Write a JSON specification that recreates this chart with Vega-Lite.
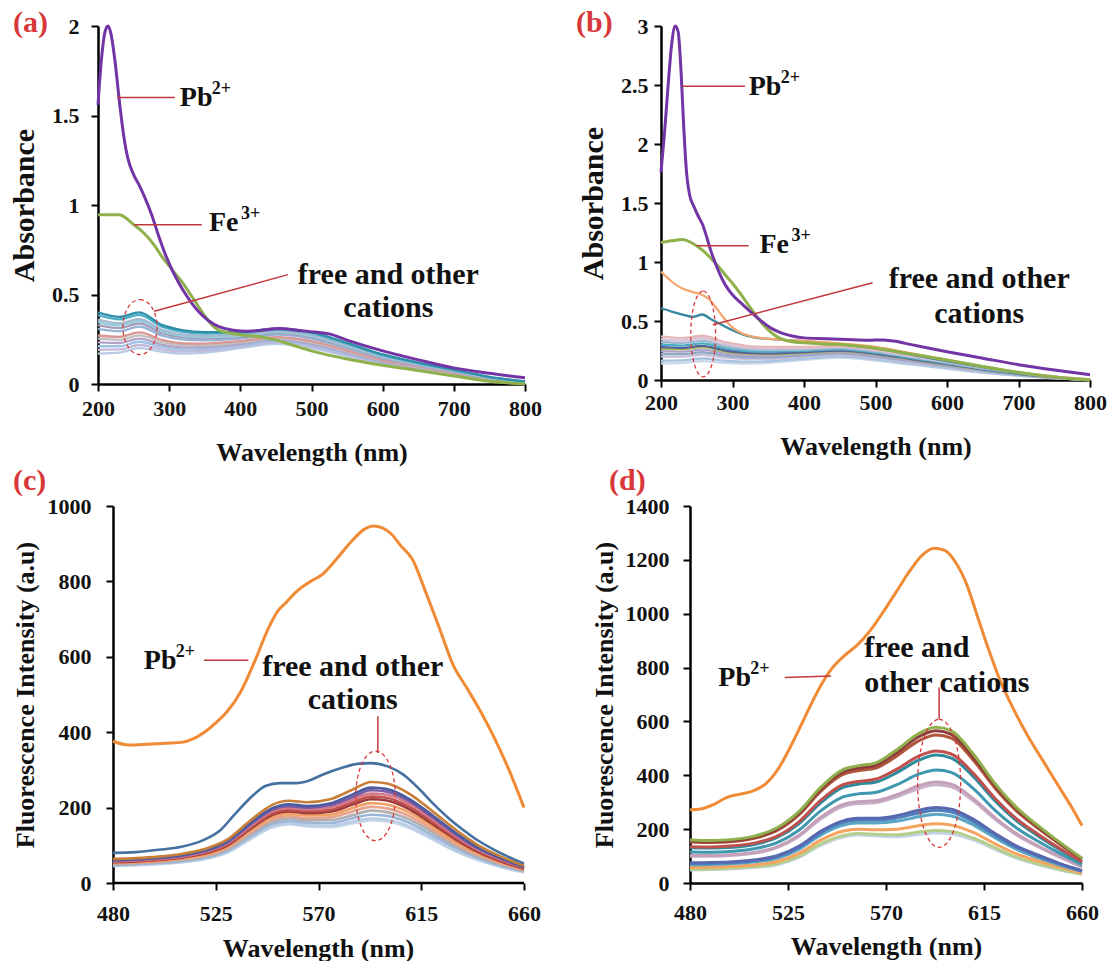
{
  "$schema": "https://vega.github.io/schema/vega-lite/v6.json",
  "background": "white",
  "padding": {"left": 9, "top": 8, "right": 0, "bottom": 0},
  "config": {
    "view": {"stroke": null},
    "font": "Liberation Serif, serif",
    "style": {
      "guide-label": {"font": "Liberation Serif, serif", "fontWeight": "bold"},
      "guide-title": {"font": "Liberation Serif, serif", "fontWeight": "bold"}
    },
    "axis": {
      "domainColor": "#000", "domainWidth": 2.5, "tickColor": "#000", "tickWidth": 2, "tickSize": 7,
      "labelFont": "Liberation Serif, serif", "labelFontSize": 22, "labelFontWeight": "bold", "labelColor": "#111",
      "titleFont": "Liberation Serif, serif", "titleFontSize": 26, "titleFontWeight": "bold", "titleColor": "#111",
      "grid": false, "labelFlush": false, "labelOverlap": false
    },
    "title": {"anchor": "start", "frame": "group", "orient": "top", "offset": 0, "align": "left", "baseline": "middle",
      "color": "#D8383A", "font": "Liberation Serif, serif", "fontSize": 30, "fontWeight": "bold"}
  },
  "datasets": {
    "a": [
      {"s":"a12","x":200,"y":0.17},{"s":"a12","x":230,"y":0.175},{"s":"a12","x":258,"y":0.2},{"s":"a12","x":290,"y":0.18},{"s":"a12","x":320,"y":0.17},{"s":"a12","x":350,"y":0.175},{"s":"a12","x":400,"y":0.2},{"s":"a12","x":450,"y":0.225},{"s":"a12","x":500,"y":0.2},{"s":"a12","x":550,"y":0.155},{"s":"a12","x":600,"y":0.11},{"s":"a12","x":650,"y":0.08},{"s":"a12","x":700,"y":0.05},{"s":"a12","x":750,"y":0.02},{"s":"a12","x":800,"y":0.0},
      {"s":"a11","x":200,"y":0.191},{"s":"a11","x":230,"y":0.193},{"s":"a11","x":258,"y":0.218},{"s":"a11","x":290,"y":0.194},{"s":"a11","x":320,"y":0.182},{"s":"a11","x":350,"y":0.185},{"s":"a11","x":400,"y":0.208},{"s":"a11","x":450,"y":0.233},{"s":"a11","x":500,"y":0.208},{"s":"a11","x":550,"y":0.162},{"s":"a11","x":600,"y":0.115},{"s":"a11","x":650,"y":0.084},{"s":"a11","x":700,"y":0.053},{"s":"a11","x":750,"y":0.022},{"s":"a11","x":800,"y":0.001},
      {"s":"a10","x":200,"y":0.211},{"s":"a10","x":230,"y":0.211},{"s":"a10","x":258,"y":0.236},{"s":"a10","x":290,"y":0.207},{"s":"a10","x":320,"y":0.193},{"s":"a10","x":350,"y":0.196},{"s":"a10","x":400,"y":0.216},{"s":"a10","x":450,"y":0.24},{"s":"a10","x":500,"y":0.216},{"s":"a10","x":550,"y":0.169},{"s":"a10","x":600,"y":0.12},{"s":"a10","x":650,"y":0.087},{"s":"a10","x":700,"y":0.055},{"s":"a10","x":750,"y":0.024},{"s":"a10","x":800,"y":0.003},
      {"s":"a9","x":200,"y":0.232},{"s":"a9","x":230,"y":0.229},{"s":"a9","x":258,"y":0.254},{"s":"a9","x":290,"y":0.22},{"s":"a9","x":320,"y":0.205},{"s":"a9","x":350,"y":0.206},{"s":"a9","x":400,"y":0.224},{"s":"a9","x":450,"y":0.248},{"s":"a9","x":500,"y":0.224},{"s":"a9","x":550,"y":0.175},{"s":"a9","x":600,"y":0.125},{"s":"a9","x":650,"y":0.091},{"s":"a9","x":700,"y":0.058},{"s":"a9","x":750,"y":0.025},{"s":"a9","x":800,"y":0.004},
      {"s":"a8","x":200,"y":0.253},{"s":"a8","x":230,"y":0.247},{"s":"a8","x":258,"y":0.272},{"s":"a8","x":290,"y":0.234},{"s":"a8","x":320,"y":0.217},{"s":"a8","x":350,"y":0.216},{"s":"a8","x":400,"y":0.232},{"s":"a8","x":450,"y":0.256},{"s":"a8","x":500,"y":0.232},{"s":"a8","x":550,"y":0.182},{"s":"a8","x":600,"y":0.13},{"s":"a8","x":650,"y":0.094},{"s":"a8","x":700,"y":0.061},{"s":"a8","x":750,"y":0.027},{"s":"a8","x":800,"y":0.005},
      {"s":"a7","x":200,"y":0.271},{"s":"a7","x":230,"y":0.263},{"s":"a7","x":258,"y":0.288},{"s":"a7","x":290,"y":0.246},{"s":"a7","x":320,"y":0.227},{"s":"a7","x":350,"y":0.226},{"s":"a7","x":400,"y":0.24},{"s":"a7","x":450,"y":0.262},{"s":"a7","x":500,"y":0.24},{"s":"a7","x":550,"y":0.188},{"s":"a7","x":600,"y":0.134},{"s":"a7","x":650,"y":0.098},{"s":"a7","x":700,"y":0.063},{"s":"a7","x":750,"y":0.029},{"s":"a7","x":800,"y":0.007},
      {"s":"a6","x":200,"y":0.308},{"s":"a6","x":230,"y":0.295},{"s":"a6","x":258,"y":0.32},{"s":"a6","x":290,"y":0.27},{"s":"a6","x":320,"y":0.248},{"s":"a6","x":350,"y":0.244},{"s":"a6","x":400,"y":0.254},{"s":"a6","x":450,"y":0.276},{"s":"a6","x":500,"y":0.254},{"s":"a6","x":550,"y":0.2},{"s":"a6","x":600,"y":0.143},{"s":"a6","x":650,"y":0.104},{"s":"a6","x":700,"y":0.068},{"s":"a6","x":750,"y":0.032},{"s":"a6","x":800,"y":0.009},
      {"s":"a5","x":200,"y":0.329},{"s":"a5","x":230,"y":0.313},{"s":"a5","x":258,"y":0.338},{"s":"a5","x":290,"y":0.284},{"s":"a5","x":320,"y":0.26},{"s":"a5","x":350,"y":0.254},{"s":"a5","x":400,"y":0.262},{"s":"a5","x":450,"y":0.284},{"s":"a5","x":500,"y":0.262},{"s":"a5","x":550,"y":0.207},{"s":"a5","x":600,"y":0.148},{"s":"a5","x":650,"y":0.108},{"s":"a5","x":700,"y":0.071},{"s":"a5","x":750,"y":0.034},{"s":"a5","x":800,"y":0.01},
      {"s":"a4","x":200,"y":0.345},{"s":"a4","x":230,"y":0.327},{"s":"a4","x":258,"y":0.352},{"s":"a4","x":290,"y":0.294},{"s":"a4","x":320,"y":0.269},{"s":"a4","x":350,"y":0.262},{"s":"a4","x":400,"y":0.268},{"s":"a4","x":450,"y":0.29},{"s":"a4","x":500,"y":0.268},{"s":"a4","x":550,"y":0.212},{"s":"a4","x":600,"y":0.152},{"s":"a4","x":650,"y":0.11},{"s":"a4","x":700,"y":0.073},{"s":"a4","x":750,"y":0.035},{"s":"a4","x":800,"y":0.011},
      {"s":"a3","x":200,"y":0.359},{"s":"a3","x":230,"y":0.339},{"s":"a3","x":258,"y":0.364},{"s":"a3","x":290,"y":0.303},{"s":"a3","x":320,"y":0.277},{"s":"a3","x":350,"y":0.269},{"s":"a3","x":400,"y":0.274},{"s":"a3","x":450,"y":0.295},{"s":"a3","x":500,"y":0.274},{"s":"a3","x":550,"y":0.217},{"s":"a3","x":600,"y":0.155},{"s":"a3","x":650,"y":0.113},{"s":"a3","x":700,"y":0.075},{"s":"a3","x":750,"y":0.036},{"s":"a3","x":800,"y":0.012},
      {"s":"a2","x":200,"y":0.384},{"s":"a2","x":230,"y":0.361},{"s":"a2","x":258,"y":0.386},{"s":"a2","x":290,"y":0.32},{"s":"a2","x":320,"y":0.291},{"s":"a2","x":350,"y":0.282},{"s":"a2","x":400,"y":0.284},{"s":"a2","x":450,"y":0.304},{"s":"a2","x":500,"y":0.284},{"s":"a2","x":550,"y":0.225},{"s":"a2","x":600,"y":0.161},{"s":"a2","x":650,"y":0.117},{"s":"a2","x":700,"y":0.078},{"s":"a2","x":750,"y":0.039},{"s":"a2","x":800,"y":0.014},
      {"s":"a1","x":200,"y":0.4},{"s":"a1","x":230,"y":0.375},{"s":"a1","x":258,"y":0.4},{"s":"a1","x":290,"y":0.33},{"s":"a1","x":320,"y":0.3},{"s":"a1","x":350,"y":0.29},{"s":"a1","x":400,"y":0.29},{"s":"a1","x":450,"y":0.31},{"s":"a1","x":500,"y":0.29},{"s":"a1","x":550,"y":0.23},{"s":"a1","x":600,"y":0.165},{"s":"a1","x":650,"y":0.12},{"s":"a1","x":700,"y":0.08},{"s":"a1","x":750,"y":0.04},{"s":"a1","x":800,"y":0.015},
      {"s":"Fe","x":200,"y":0.945},{"s":"Fe","x":215,"y":0.945},{"s":"Fe","x":230,"y":0.945},{"s":"Fe","x":240,"y":0.925},{"s":"Fe","x":250,"y":0.89},{"s":"Fe","x":260,"y":0.86},{"s":"Fe","x":270,"y":0.82},{"s":"Fe","x":280,"y":0.77},{"s":"Fe","x":290,"y":0.71},{"s":"Fe","x":300,"y":0.66},{"s":"Fe","x":310,"y":0.61},{"s":"Fe","x":320,"y":0.56},{"s":"Fe","x":330,"y":0.5},{"s":"Fe","x":340,"y":0.44},{"s":"Fe","x":350,"y":0.38},{"s":"Fe","x":360,"y":0.33},{"s":"Fe","x":370,"y":0.3},{"s":"Fe","x":385,"y":0.285},{"s":"Fe","x":400,"y":0.275},{"s":"Fe","x":425,"y":0.265},{"s":"Fe","x":450,"y":0.245},{"s":"Fe","x":475,"y":0.215},{"s":"Fe","x":500,"y":0.185},{"s":"Fe","x":550,"y":0.14},{"s":"Fe","x":600,"y":0.105},{"s":"Fe","x":650,"y":0.075},{"s":"Fe","x":700,"y":0.045},{"s":"Fe","x":750,"y":0.015},{"s":"Fe","x":800,"y":0.0},
      {"s":"Pb","x":200,"y":1.56},{"s":"Pb","x":205,"y":1.82},{"s":"Pb","x":210,"y":1.97},{"s":"Pb","x":214,"y":2.0},{"s":"Pb","x":218,"y":1.96},{"s":"Pb","x":224,"y":1.8},{"s":"Pb","x":230,"y":1.58},{"s":"Pb","x":236,"y":1.39},{"s":"Pb","x":242,"y":1.26},{"s":"Pb","x":250,"y":1.17},{"s":"Pb","x":258,"y":1.11},{"s":"Pb","x":266,"y":1.04},{"s":"Pb","x":275,"y":0.95},{"s":"Pb","x":285,"y":0.83},{"s":"Pb","x":295,"y":0.72},{"s":"Pb","x":305,"y":0.63},{"s":"Pb","x":315,"y":0.555},{"s":"Pb","x":325,"y":0.49},{"s":"Pb","x":340,"y":0.41},{"s":"Pb","x":355,"y":0.355},{"s":"Pb","x":370,"y":0.32},{"s":"Pb","x":390,"y":0.3},{"s":"Pb","x":410,"y":0.295},{"s":"Pb","x":430,"y":0.3},{"s":"Pb","x":455,"y":0.31},{"s":"Pb","x":480,"y":0.3},{"s":"Pb","x":505,"y":0.29},{"s":"Pb","x":525,"y":0.28},{"s":"Pb","x":550,"y":0.245},{"s":"Pb","x":600,"y":0.185},{"s":"Pb","x":650,"y":0.135},{"s":"Pb","x":700,"y":0.09},{"s":"Pb","x":750,"y":0.06},{"s":"Pb","x":800,"y":0.035}
    ],
    "a_notes": [
      {"kind":"rule","x":227,"y":1.6,"x2":308,"y2":1.6},
      {"kind":"rule","x":251,"y":0.89,"x2":346,"y2":0.89},
      {"kind":"rule","x":279,"y":0.406,"x2":467,"y2":0.611},
      {"kind":"ring","x":259,"y":0.318},
      {"kind":"label","x":315,"y":1.6,"t":"Pb","sup":"2+"},
      {"kind":"label","x":356,"y":0.9,"t":"Fe","sup":"3+"},
      {"kind":"note","x":608,"y":0.611,"t":"free and other\ncations"}
    ],
    "b": [
      {"s":"b11","x":200,"y":0.14},{"s":"b11","x":230,"y":0.145},{"s":"b11","x":258,"y":0.16},{"s":"b11","x":290,"y":0.145},{"s":"b11","x":320,"y":0.14},{"s":"b11","x":350,"y":0.145},{"s":"b11","x":400,"y":0.17},{"s":"b11","x":450,"y":0.19},{"s":"b11","x":500,"y":0.165},{"s":"b11","x":550,"y":0.13},{"s":"b11","x":600,"y":0.095},{"s":"b11","x":650,"y":0.06},{"s":"b11","x":700,"y":0.035},{"s":"b11","x":750,"y":0.015},{"s":"b11","x":800,"y":0.0},
      {"s":"b10","x":200,"y":0.163},{"s":"b10","x":230,"y":0.166},{"s":"b10","x":258,"y":0.182},{"s":"b10","x":290,"y":0.163},{"s":"b10","x":320,"y":0.155},{"s":"b10","x":350,"y":0.159},{"s":"b10","x":400,"y":0.181},{"s":"b10","x":450,"y":0.2},{"s":"b10","x":500,"y":0.175},{"s":"b10","x":550,"y":0.138},{"s":"b10","x":600,"y":0.102},{"s":"b10","x":650,"y":0.065},{"s":"b10","x":700,"y":0.038},{"s":"b10","x":750,"y":0.017},{"s":"b10","x":800,"y":0.0},
      {"s":"b9","x":200,"y":0.198},{"s":"b9","x":230,"y":0.198},{"s":"b9","x":258,"y":0.214},{"s":"b9","x":290,"y":0.189},{"s":"b9","x":320,"y":0.178},{"s":"b9","x":350,"y":0.179},{"s":"b9","x":400,"y":0.198},{"s":"b9","x":450,"y":0.215},{"s":"b9","x":500,"y":0.189},{"s":"b9","x":550,"y":0.15},{"s":"b9","x":600,"y":0.111},{"s":"b9","x":650,"y":0.073},{"s":"b9","x":700,"y":0.043},{"s":"b9","x":750,"y":0.019},{"s":"b9","x":800,"y":0.001},
      {"s":"b8","x":200,"y":0.221},{"s":"b8","x":230,"y":0.219},{"s":"b8","x":258,"y":0.235},{"s":"b8","x":290,"y":0.206},{"s":"b8","x":320,"y":0.193},{"s":"b8","x":350,"y":0.192},{"s":"b8","x":400,"y":0.209},{"s":"b8","x":450,"y":0.225},{"s":"b8","x":500,"y":0.198},{"s":"b8","x":550,"y":0.158},{"s":"b8","x":600,"y":0.118},{"s":"b8","x":650,"y":0.078},{"s":"b8","x":700,"y":0.046},{"s":"b8","x":750,"y":0.02},{"s":"b8","x":800,"y":0.002},
      {"s":"b7","x":200,"y":0.244},{"s":"b7","x":230,"y":0.24},{"s":"b7","x":258,"y":0.257},{"s":"b7","x":290,"y":0.224},{"s":"b7","x":320,"y":0.208},{"s":"b7","x":350,"y":0.206},{"s":"b7","x":400,"y":0.22},{"s":"b7","x":450,"y":0.235},{"s":"b7","x":500,"y":0.208},{"s":"b7","x":550,"y":0.166},{"s":"b7","x":600,"y":0.124},{"s":"b7","x":650,"y":0.083},{"s":"b7","x":700,"y":0.049},{"s":"b7","x":750,"y":0.022},{"s":"b7","x":800,"y":0.002},
      {"s":"b6","x":200,"y":0.267},{"s":"b6","x":230,"y":0.261},{"s":"b6","x":258,"y":0.278},{"s":"b6","x":290,"y":0.241},{"s":"b6","x":320,"y":0.223},{"s":"b6","x":350,"y":0.219},{"s":"b6","x":400,"y":0.231},{"s":"b6","x":450,"y":0.245},{"s":"b6","x":500,"y":0.217},{"s":"b6","x":550,"y":0.174},{"s":"b6","x":600,"y":0.131},{"s":"b6","x":650,"y":0.088},{"s":"b6","x":700,"y":0.052},{"s":"b6","x":750,"y":0.023},{"s":"b6","x":800,"y":0.003},
      {"s":"b5","x":200,"y":0.278},{"s":"b5","x":230,"y":0.271},{"s":"b5","x":258,"y":0.289},{"s":"b5","x":290,"y":0.25},{"s":"b5","x":320,"y":0.23},{"s":"b5","x":350,"y":0.226},{"s":"b5","x":400,"y":0.236},{"s":"b5","x":450,"y":0.25},{"s":"b5","x":500,"y":0.222},{"s":"b5","x":550,"y":0.178},{"s":"b5","x":600,"y":0.134},{"s":"b5","x":650,"y":0.09},{"s":"b5","x":700,"y":0.053},{"s":"b5","x":750,"y":0.024},{"s":"b5","x":800,"y":0.003},
      {"s":"b4","x":200,"y":0.301},{"s":"b4","x":230,"y":0.292},{"s":"b4","x":258,"y":0.31},{"s":"b4","x":290,"y":0.268},{"s":"b4","x":320,"y":0.245},{"s":"b4","x":350,"y":0.24},{"s":"b4","x":400,"y":0.247},{"s":"b4","x":450,"y":0.26},{"s":"b4","x":500,"y":0.232},{"s":"b4","x":550,"y":0.186},{"s":"b4","x":600,"y":0.141},{"s":"b4","x":650,"y":0.095},{"s":"b4","x":700,"y":0.056},{"s":"b4","x":750,"y":0.026},{"s":"b4","x":800,"y":0.004},
      {"s":"b3","x":200,"y":0.324},{"s":"b3","x":230,"y":0.313},{"s":"b3","x":258,"y":0.332},{"s":"b3","x":290,"y":0.285},{"s":"b3","x":320,"y":0.26},{"s":"b3","x":350,"y":0.253},{"s":"b3","x":400,"y":0.258},{"s":"b3","x":450,"y":0.27},{"s":"b3","x":500,"y":0.241},{"s":"b3","x":550,"y":0.194},{"s":"b3","x":600,"y":0.147},{"s":"b3","x":650,"y":0.1},{"s":"b3","x":700,"y":0.059},{"s":"b3","x":750,"y":0.027},{"s":"b3","x":800,"y":0.004},
      {"s":"b2","x":200,"y":0.347},{"s":"b2","x":230,"y":0.334},{"s":"b2","x":258,"y":0.354},{"s":"b2","x":290,"y":0.303},{"s":"b2","x":320,"y":0.275},{"s":"b2","x":350,"y":0.267},{"s":"b2","x":400,"y":0.269},{"s":"b2","x":450,"y":0.28},{"s":"b2","x":500,"y":0.251},{"s":"b2","x":550,"y":0.202},{"s":"b2","x":600,"y":0.154},{"s":"b2","x":650,"y":0.105},{"s":"b2","x":700,"y":0.062},{"s":"b2","x":750,"y":0.029},{"s":"b2","x":800,"y":0.005},
      {"s":"b1","x":200,"y":0.37},{"s":"b1","x":230,"y":0.355},{"s":"b1","x":258,"y":0.375},{"s":"b1","x":290,"y":0.32},{"s":"b1","x":320,"y":0.29},{"s":"b1","x":350,"y":0.28},{"s":"b1","x":400,"y":0.28},{"s":"b1","x":450,"y":0.29},{"s":"b1","x":500,"y":0.26},{"s":"b1","x":550,"y":0.21},{"s":"b1","x":600,"y":0.16},{"s":"b1","x":650,"y":0.11},{"s":"b1","x":700,"y":0.065},{"s":"b1","x":750,"y":0.03},{"s":"b1","x":800,"y":0.005},
      {"s":"t1","x":200,"y":0.61},{"s":"t1","x":215,"y":0.58},{"s":"t1","x":230,"y":0.555},{"s":"t1","x":245,"y":0.535},{"s":"t1","x":258,"y":0.555},{"s":"t1","x":270,"y":0.515},{"s":"t1","x":285,"y":0.468},{"s":"t1","x":300,"y":0.422},{"s":"t1","x":315,"y":0.385},{"s":"t1","x":330,"y":0.362},{"s":"t1","x":360,"y":0.345},{"s":"t1","x":400,"y":0.33},{"s":"t1","x":450,"y":0.305},{"s":"t1","x":500,"y":0.27},{"s":"t1","x":550,"y":0.215},{"s":"t1","x":600,"y":0.16},{"s":"t1","x":650,"y":0.11},{"s":"t1","x":700,"y":0.06},{"s":"t1","x":750,"y":0.025},{"s":"t1","x":800,"y":0.0},
      {"s":"o1","x":200,"y":0.92},{"s":"o1","x":210,"y":0.86},{"s":"o1","x":220,"y":0.81},{"s":"o1","x":230,"y":0.775},{"s":"o1","x":245,"y":0.745},{"s":"o1","x":258,"y":0.72},{"s":"o1","x":268,"y":0.68},{"s":"o1","x":278,"y":0.605},{"s":"o1","x":288,"y":0.525},{"s":"o1","x":298,"y":0.455},{"s":"o1","x":310,"y":0.405},{"s":"o1","x":325,"y":0.372},{"s":"o1","x":345,"y":0.352},{"s":"o1","x":375,"y":0.338},{"s":"o1","x":400,"y":0.332},{"s":"o1","x":450,"y":0.31},{"s":"o1","x":500,"y":0.28},{"s":"o1","x":550,"y":0.225},{"s":"o1","x":600,"y":0.17},{"s":"o1","x":650,"y":0.115},{"s":"o1","x":700,"y":0.065},{"s":"o1","x":750,"y":0.025},{"s":"o1","x":800,"y":0.005},
      {"s":"Fe","x":200,"y":1.165},{"s":"Fe","x":215,"y":1.18},{"s":"Fe","x":230,"y":1.19},{"s":"Fe","x":245,"y":1.155},{"s":"Fe","x":260,"y":1.09},{"s":"Fe","x":270,"y":1.03},{"s":"Fe","x":280,"y":0.965},{"s":"Fe","x":290,"y":0.89},{"s":"Fe","x":300,"y":0.82},{"s":"Fe","x":310,"y":0.74},{"s":"Fe","x":320,"y":0.655},{"s":"Fe","x":330,"y":0.57},{"s":"Fe","x":340,"y":0.49},{"s":"Fe","x":350,"y":0.425},{"s":"Fe","x":360,"y":0.375},{"s":"Fe","x":375,"y":0.335},{"s":"Fe","x":400,"y":0.315},{"s":"Fe","x":450,"y":0.3},{"s":"Fe","x":500,"y":0.27},{"s":"Fe","x":550,"y":0.22},{"s":"Fe","x":600,"y":0.17},{"s":"Fe","x":650,"y":0.115},{"s":"Fe","x":700,"y":0.065},{"s":"Fe","x":750,"y":0.025},{"s":"Fe","x":800,"y":0.0},
      {"s":"Pb","x":200,"y":1.76},{"s":"Pb","x":205,"y":2.1},{"s":"Pb","x":210,"y":2.5},{"s":"Pb","x":215,"y":2.85},{"s":"Pb","x":220,"y":3.0},{"s":"Pb","x":224,"y":2.95},{"s":"Pb","x":228,"y":2.62},{"s":"Pb","x":232,"y":2.12},{"s":"Pb","x":236,"y":1.74},{"s":"Pb","x":240,"y":1.57},{"s":"Pb","x":246,"y":1.47},{"s":"Pb","x":252,"y":1.39},{"s":"Pb","x":258,"y":1.32},{"s":"Pb","x":264,"y":1.21},{"s":"Pb","x":270,"y":1.09},{"s":"Pb","x":278,"y":0.96},{"s":"Pb","x":286,"y":0.85},{"s":"Pb","x":295,"y":0.76},{"s":"Pb","x":305,"y":0.69},{"s":"Pb","x":315,"y":0.635},{"s":"Pb","x":325,"y":0.58},{"s":"Pb","x":340,"y":0.5},{"s":"Pb","x":355,"y":0.435},{"s":"Pb","x":370,"y":0.395},{"s":"Pb","x":385,"y":0.37},{"s":"Pb","x":400,"y":0.357},{"s":"Pb","x":430,"y":0.35},{"s":"Pb","x":460,"y":0.343},{"s":"Pb","x":490,"y":0.337},{"s":"Pb","x":510,"y":0.34},{"s":"Pb","x":525,"y":0.33},{"s":"Pb","x":550,"y":0.3},{"s":"Pb","x":600,"y":0.24},{"s":"Pb","x":650,"y":0.185},{"s":"Pb","x":700,"y":0.13},{"s":"Pb","x":750,"y":0.085},{"s":"Pb","x":800,"y":0.045}
    ],
    "b_notes": [
      {"kind":"rule","x":229.6,"y":2.49,"x2":317.6,"y2":2.49},
      {"kind":"rule","x":249.7,"y":1.137,"x2":322.6,"y2":1.137},
      {"kind":"rule","x":272.4,"y":0.469,"x2":496,"y2":0.825},
      {"kind":"ring","x":259,"y":0.39},
      {"kind":"label","x":322.6,"y":2.48,"t":"Pb","sup":"2+"},
      {"kind":"label","x":337.7,"y":1.146,"t":"Fe","sup":"3+"},
      {"kind":"note","x":645,"y":0.853,"t":"free and other\ncations"}
    ],
    "c": [
      {"s":"c12","x":480,"y":45},{"s":"c12","x":490,"y":47},{"s":"c12","x":500,"y":50},{"s":"c12","x":510,"y":55},{"s":"c12","x":520,"y":63},{"s":"c12","x":530,"y":80},{"s":"c12","x":540,"y":115},{"s":"c12","x":550,"y":148},{"s":"c12","x":557,"y":155},{"s":"c12","x":565,"y":150},{"s":"c12","x":575,"y":148},{"s":"c12","x":585,"y":158},{"s":"c12","x":593,"y":166},{"s":"c12","x":600,"y":163},{"s":"c12","x":610,"y":145},{"s":"c12","x":620,"y":115},{"s":"c12","x":630,"y":84},{"s":"c12","x":640,"y":60},{"s":"c12","x":650,"y":42},{"s":"c12","x":660,"y":28},
      {"s":"c11","x":480,"y":46},{"s":"c11","x":490,"y":48},{"s":"c11","x":500,"y":51},{"s":"c11","x":510,"y":56},{"s":"c11","x":520,"y":64},{"s":"c11","x":530,"y":82},{"s":"c11","x":540,"y":118},{"s":"c11","x":550,"y":151},{"s":"c11","x":557,"y":158},{"s":"c11","x":565,"y":153},{"s":"c11","x":575,"y":152},{"s":"c11","x":585,"y":163},{"s":"c11","x":593,"y":171},{"s":"c11","x":600,"y":168},{"s":"c11","x":610,"y":150},{"s":"c11","x":620,"y":119},{"s":"c11","x":630,"y":87},{"s":"c11","x":640,"y":62},{"s":"c11","x":650,"y":43},{"s":"c11","x":660,"y":29},
      {"s":"c10","x":480,"y":48},{"s":"c10","x":490,"y":50},{"s":"c10","x":500,"y":53},{"s":"c10","x":510,"y":58},{"s":"c10","x":520,"y":67},{"s":"c10","x":530,"y":85},{"s":"c10","x":540,"y":123},{"s":"c10","x":550,"y":157},{"s":"c10","x":557,"y":164},{"s":"c10","x":565,"y":160},{"s":"c10","x":575,"y":159},{"s":"c10","x":585,"y":172},{"s":"c10","x":593,"y":181},{"s":"c10","x":600,"y":178},{"s":"c10","x":610,"y":159},{"s":"c10","x":620,"y":126},{"s":"c10","x":630,"y":93},{"s":"c10","x":640,"y":66},{"s":"c10","x":650,"y":46},{"s":"c10","x":660,"y":31},
      {"s":"c9","x":480,"y":50},{"s":"c9","x":490,"y":52},{"s":"c9","x":500,"y":55},{"s":"c9","x":510,"y":61},{"s":"c9","x":520,"y":70},{"s":"c9","x":530,"y":89},{"s":"c9","x":540,"y":128},{"s":"c9","x":550,"y":163},{"s":"c9","x":557,"y":171},{"s":"c9","x":565,"y":166},{"s":"c9","x":575,"y":167},{"s":"c9","x":585,"y":180},{"s":"c9","x":593,"y":192},{"s":"c9","x":600,"y":188},{"s":"c9","x":610,"y":168},{"s":"c9","x":620,"y":134},{"s":"c9","x":630,"y":98},{"s":"c9","x":640,"y":70},{"s":"c9","x":650,"y":49},{"s":"c9","x":660,"y":33},
      {"s":"c8","x":480,"y":52},{"s":"c8","x":490,"y":54},{"s":"c8","x":500,"y":57},{"s":"c8","x":510,"y":63},{"s":"c8","x":520,"y":72},{"s":"c8","x":530,"y":92},{"s":"c8","x":540,"y":133},{"s":"c8","x":550,"y":169},{"s":"c8","x":557,"y":177},{"s":"c8","x":565,"y":172},{"s":"c8","x":575,"y":174},{"s":"c8","x":585,"y":190},{"s":"c8","x":593,"y":202},{"s":"c8","x":600,"y":198},{"s":"c8","x":610,"y":177},{"s":"c8","x":620,"y":141},{"s":"c8","x":630,"y":104},{"s":"c8","x":640,"y":74},{"s":"c8","x":650,"y":52},{"s":"c8","x":660,"y":34},
      {"s":"c7","x":480,"y":54},{"s":"c7","x":490,"y":56},{"s":"c7","x":500,"y":59},{"s":"c7","x":510,"y":65},{"s":"c7","x":520,"y":75},{"s":"c7","x":530,"y":96},{"s":"c7","x":540,"y":138},{"s":"c7","x":550,"y":175},{"s":"c7","x":557,"y":183},{"s":"c7","x":565,"y":179},{"s":"c7","x":575,"y":181},{"s":"c7","x":585,"y":199},{"s":"c7","x":593,"y":212},{"s":"c7","x":600,"y":208},{"s":"c7","x":610,"y":186},{"s":"c7","x":620,"y":149},{"s":"c7","x":630,"y":110},{"s":"c7","x":640,"y":78},{"s":"c7","x":650,"y":55},{"s":"c7","x":660,"y":36},
      {"s":"c6","x":480,"y":55},{"s":"c6","x":490,"y":57},{"s":"c6","x":500,"y":61},{"s":"c6","x":510,"y":67},{"s":"c6","x":520,"y":78},{"s":"c6","x":530,"y":99},{"s":"c6","x":540,"y":143},{"s":"c6","x":550,"y":181},{"s":"c6","x":557,"y":190},{"s":"c6","x":565,"y":185},{"s":"c6","x":575,"y":189},{"s":"c6","x":585,"y":208},{"s":"c6","x":593,"y":222},{"s":"c6","x":600,"y":219},{"s":"c6","x":610,"y":195},{"s":"c6","x":620,"y":156},{"s":"c6","x":630,"y":116},{"s":"c6","x":640,"y":82},{"s":"c6","x":650,"y":57},{"s":"c6","x":660,"y":38},
      {"s":"c5","x":480,"y":57},{"s":"c5","x":490,"y":59},{"s":"c5","x":500,"y":62},{"s":"c5","x":510,"y":69},{"s":"c5","x":520,"y":80},{"s":"c5","x":530,"y":102},{"s":"c5","x":540,"y":146},{"s":"c5","x":550,"y":185},{"s":"c5","x":557,"y":194},{"s":"c5","x":565,"y":190},{"s":"c5","x":575,"y":194},{"s":"c5","x":585,"y":214},{"s":"c5","x":593,"y":229},{"s":"c5","x":600,"y":226},{"s":"c5","x":610,"y":201},{"s":"c5","x":620,"y":162},{"s":"c5","x":630,"y":120},{"s":"c5","x":640,"y":85},{"s":"c5","x":650,"y":59},{"s":"c5","x":660,"y":39},
      {"s":"c4","x":480,"y":58},{"s":"c4","x":490,"y":60},{"s":"c4","x":500,"y":64},{"s":"c4","x":510,"y":70},{"s":"c4","x":520,"y":82},{"s":"c4","x":530,"y":105},{"s":"c4","x":540,"y":150},{"s":"c4","x":550,"y":190},{"s":"c4","x":557,"y":199},{"s":"c4","x":565,"y":195},{"s":"c4","x":575,"y":200},{"s":"c4","x":585,"y":221},{"s":"c4","x":593,"y":237},{"s":"c4","x":600,"y":234},{"s":"c4","x":610,"y":209},{"s":"c4","x":620,"y":168},{"s":"c4","x":630,"y":125},{"s":"c4","x":640,"y":88},{"s":"c4","x":650,"y":62},{"s":"c4","x":660,"y":41},
      {"s":"c3","x":480,"y":60},{"s":"c3","x":490,"y":62},{"s":"c3","x":500,"y":66},{"s":"c3","x":510,"y":72},{"s":"c3","x":520,"y":84},{"s":"c3","x":530,"y":107},{"s":"c3","x":540,"y":154},{"s":"c3","x":550,"y":195},{"s":"c3","x":557,"y":204},{"s":"c3","x":565,"y":200},{"s":"c3","x":575,"y":206},{"s":"c3","x":585,"y":228},{"s":"c3","x":593,"y":246},{"s":"c3","x":600,"y":242},{"s":"c3","x":610,"y":216},{"s":"c3","x":620,"y":174},{"s":"c3","x":630,"y":129},{"s":"c3","x":640,"y":91},{"s":"c3","x":650,"y":64},{"s":"c3","x":660,"y":42},
      {"s":"c2","x":480,"y":61},{"s":"c2","x":490,"y":63},{"s":"c2","x":500,"y":67},{"s":"c2","x":510,"y":74},{"s":"c2","x":520,"y":86},{"s":"c2","x":530,"y":110},{"s":"c2","x":540,"y":158},{"s":"c2","x":550,"y":199},{"s":"c2","x":557,"y":209},{"s":"c2","x":565,"y":204},{"s":"c2","x":575,"y":211},{"s":"c2","x":585,"y":235},{"s":"c2","x":593,"y":253},{"s":"c2","x":600,"y":249},{"s":"c2","x":610,"y":222},{"s":"c2","x":620,"y":179},{"s":"c2","x":630,"y":133},{"s":"c2","x":640,"y":94},{"s":"c2","x":650,"y":66},{"s":"c2","x":660,"y":43},
      {"s":"c1","x":480,"y":64},{"s":"c1","x":490,"y":66},{"s":"c1","x":500,"y":70},{"s":"c1","x":510,"y":77},{"s":"c1","x":520,"y":90},{"s":"c1","x":530,"y":115},{"s":"c1","x":540,"y":165},{"s":"c1","x":550,"y":208},{"s":"c1","x":557,"y":218},{"s":"c1","x":565,"y":214},{"s":"c1","x":575,"y":222},{"s":"c1","x":585,"y":248},{"s":"c1","x":593,"y":268},{"s":"c1","x":600,"y":264},{"s":"c1","x":610,"y":236},{"s":"c1","x":620,"y":190},{"s":"c1","x":630,"y":142},{"s":"c1","x":640,"y":100},{"s":"c1","x":650,"y":70},{"s":"c1","x":660,"y":46},
      {"s":"c0","x":480,"y":80},{"s":"c0","x":490,"y":82},{"s":"c0","x":500,"y":88},{"s":"c0","x":510,"y":96},{"s":"c0","x":520,"y":115},{"s":"c0","x":527,"y":140},{"s":"c0","x":533,"y":180},{"s":"c0","x":540,"y":225},{"s":"c0","x":547,"y":258},{"s":"c0","x":553,"y":265},{"s":"c0","x":560,"y":265},{"s":"c0","x":566,"y":272},{"s":"c0","x":572,"y":288},{"s":"c0","x":580,"y":305},{"s":"c0","x":587,"y":316},{"s":"c0","x":593,"y":318},{"s":"c0","x":600,"y":310},{"s":"c0","x":607,"y":288},{"s":"c0","x":614,"y":250},{"s":"c0","x":620,"y":212},{"s":"c0","x":627,"y":172},{"s":"c0","x":634,"y":138},{"s":"c0","x":640,"y":112},{"s":"c0","x":647,"y":88},{"s":"c0","x":653,"y":70},{"s":"c0","x":660,"y":52},
      {"s":"Pb","x":480,"y":376},{"s":"Pb","x":487,"y":366},{"s":"Pb","x":495,"y":368},{"s":"Pb","x":503,"y":371},{"s":"Pb","x":510,"y":373},{"s":"Pb","x":515,"y":382},{"s":"Pb","x":520,"y":400},{"s":"Pb","x":525,"y":425},{"s":"Pb","x":530,"y":455},{"s":"Pb","x":536,"y":508},{"s":"Pb","x":542,"y":587},{"s":"Pb","x":548,"y":675},{"s":"Pb","x":552,"y":720},{"s":"Pb","x":556,"y":745},{"s":"Pb","x":560,"y":771},{"s":"Pb","x":566,"y":798},{"s":"Pb","x":572,"y":820},{"s":"Pb","x":578,"y":860},{"s":"Pb","x":584,"y":903},{"s":"Pb","x":590,"y":938},{"s":"Pb","x":594,"y":947},{"s":"Pb","x":598,"y":942},{"s":"Pb","x":602,"y":925},{"s":"Pb","x":606,"y":895},{"s":"Pb","x":611,"y":860},{"s":"Pb","x":617,"y":771},{"s":"Pb","x":623,"y":675},{"s":"Pb","x":629,"y":578},{"s":"Pb","x":635,"y":517},{"s":"Pb","x":641,"y":455},{"s":"Pb","x":647,"y":385},{"s":"Pb","x":653,"y":306},{"s":"Pb","x":660,"y":200}
    ],
    "c_notes": [
      {"kind":"base","x":480,"y":0,"x2":660,"y2":0},
      {"kind":"rule","x":519.8,"y":591,"x2":539.3,"y2":591},
      {"kind":"rule","x":596,"y":442,"x2":596,"y2":345},
      {"kind":"ring","x":595,"y":231},
      {"kind":"label","x":493.5,"y":589,"t":"Pb","sup":"2+"},
      {"kind":"note","x":585,"y":574,"t":"free and other\ncations"}
    ],
    "d": [
      {"s":"d14","x":480,"y":48},{"s":"d14","x":490,"y":50},{"s":"d14","x":500,"y":53},{"s":"d14","x":510,"y":58},{"s":"d14","x":520,"y":68},{"s":"d14","x":530,"y":95},{"s":"d14","x":540,"y":140},{"s":"d14","x":550,"y":170},{"s":"d14","x":557,"y":178},{"s":"d14","x":565,"y":175},{"s":"d14","x":575,"y":172},{"s":"d14","x":585,"y":180},{"s":"d14","x":593,"y":186},{"s":"d14","x":600,"y":182},{"s":"d14","x":610,"y":160},{"s":"d14","x":620,"y":125},{"s":"d14","x":630,"y":92},{"s":"d14","x":640,"y":68},{"s":"d14","x":650,"y":48},{"s":"d14","x":660,"y":32},
      {"s":"d13","x":480,"y":51},{"s":"d13","x":490,"y":52},{"s":"d13","x":500,"y":56},{"s":"d13","x":510,"y":61},{"s":"d13","x":520,"y":71},{"s":"d13","x":530,"y":99},{"s":"d13","x":540,"y":145},{"s":"d13","x":550,"y":176},{"s":"d13","x":557,"y":184},{"s":"d13","x":565,"y":181},{"s":"d13","x":575,"y":179},{"s":"d13","x":585,"y":189},{"s":"d13","x":593,"y":195},{"s":"d13","x":600,"y":191},{"s":"d13","x":610,"y":167},{"s":"d13","x":620,"y":131},{"s":"d13","x":630,"y":96},{"s":"d13","x":640,"y":71},{"s":"d13","x":650,"y":50},{"s":"d13","x":660,"y":33},
      {"s":"d12","x":480,"y":58},{"s":"d12","x":490,"y":59},{"s":"d12","x":500,"y":62},{"s":"d12","x":510,"y":68},{"s":"d12","x":520,"y":80},{"s":"d12","x":530,"y":110},{"s":"d12","x":540,"y":159},{"s":"d12","x":550,"y":192},{"s":"d12","x":557,"y":200},{"s":"d12","x":565,"y":198},{"s":"d12","x":575,"y":200},{"s":"d12","x":585,"y":213},{"s":"d12","x":593,"y":220},{"s":"d12","x":600,"y":215},{"s":"d12","x":610,"y":188},{"s":"d12","x":620,"y":146},{"s":"d12","x":630,"y":108},{"s":"d12","x":640,"y":81},{"s":"d12","x":650,"y":57},{"s":"d12","x":660,"y":37},
      {"s":"d11","x":480,"y":68},{"s":"d11","x":490,"y":69},{"s":"d11","x":500,"y":72},{"s":"d11","x":510,"y":79},{"s":"d11","x":520,"y":92},{"s":"d11","x":530,"y":125},{"s":"d11","x":540,"y":178},{"s":"d11","x":550,"y":214},{"s":"d11","x":557,"y":223},{"s":"d11","x":565,"y":223},{"s":"d11","x":575,"y":229},{"s":"d11","x":585,"y":246},{"s":"d11","x":593,"y":255},{"s":"d11","x":600,"y":249},{"s":"d11","x":610,"y":216},{"s":"d11","x":620,"y":168},{"s":"d11","x":630,"y":125},{"s":"d11","x":640,"y":93},{"s":"d11","x":650,"y":66},{"s":"d11","x":660,"y":43},
      {"s":"d10","x":480,"y":72},{"s":"d10","x":490,"y":73},{"s":"d10","x":500,"y":76},{"s":"d10","x":510,"y":83},{"s":"d10","x":520,"y":97},{"s":"d10","x":530,"y":131},{"s":"d10","x":540,"y":186},{"s":"d10","x":550,"y":224},{"s":"d10","x":557,"y":233},{"s":"d10","x":565,"y":233},{"s":"d10","x":575,"y":241},{"s":"d10","x":585,"y":260},{"s":"d10","x":593,"y":270},{"s":"d10","x":600,"y":264},{"s":"d10","x":610,"y":228},{"s":"d10","x":620,"y":177},{"s":"d10","x":630,"y":132},{"s":"d10","x":640,"y":99},{"s":"d10","x":650,"y":70},{"s":"d10","x":660,"y":45},
      {"s":"d9","x":480,"y":75},{"s":"d9","x":490,"y":76},{"s":"d9","x":500,"y":79},{"s":"d9","x":510,"y":86},{"s":"d9","x":520,"y":101},{"s":"d9","x":530,"y":136},{"s":"d9","x":540,"y":192},{"s":"d9","x":550,"y":230},{"s":"d9","x":557,"y":240},{"s":"d9","x":565,"y":240},{"s":"d9","x":575,"y":250},{"s":"d9","x":585,"y":270},{"s":"d9","x":593,"y":280},{"s":"d9","x":600,"y":274},{"s":"d9","x":610,"y":237},{"s":"d9","x":620,"y":184},{"s":"d9","x":630,"y":137},{"s":"d9","x":640,"y":103},{"s":"d9","x":650,"y":72},{"s":"d9","x":660,"y":46},
      {"s":"d8","x":480,"y":99},{"s":"d8","x":490,"y":99},{"s":"d8","x":500,"y":103},{"s":"d8","x":510,"y":111},{"s":"d8","x":520,"y":131},{"s":"d8","x":530,"y":173},{"s":"d8","x":540,"y":238},{"s":"d8","x":550,"y":284},{"s":"d8","x":557,"y":295},{"s":"d8","x":565,"y":298},{"s":"d8","x":575,"y":320},{"s":"d8","x":585,"y":351},{"s":"d8","x":593,"y":365},{"s":"d8","x":600,"y":357},{"s":"d8","x":610,"y":306},{"s":"d8","x":620,"y":237},{"s":"d8","x":630,"y":178},{"s":"d8","x":640,"y":134},{"s":"d8","x":650,"y":95},{"s":"d8","x":660,"y":59},
      {"s":"d7","x":480,"y":102},{"s":"d7","x":490,"y":102},{"s":"d7","x":500,"y":106},{"s":"d7","x":510,"y":114},{"s":"d7","x":520,"y":134},{"s":"d7","x":530,"y":177},{"s":"d7","x":540,"y":244},{"s":"d7","x":550,"y":291},{"s":"d7","x":557,"y":302},{"s":"d7","x":565,"y":305},{"s":"d7","x":575,"y":328},{"s":"d7","x":585,"y":361},{"s":"d7","x":593,"y":375},{"s":"d7","x":600,"y":367},{"s":"d7","x":610,"y":314},{"s":"d7","x":620,"y":243},{"s":"d7","x":630,"y":183},{"s":"d7","x":640,"y":137},{"s":"d7","x":650,"y":97},{"s":"d7","x":660,"y":61},
      {"s":"d6","x":480,"y":115},{"s":"d6","x":490,"y":114},{"s":"d6","x":500,"y":118},{"s":"d6","x":510,"y":128},{"s":"d6","x":520,"y":150},{"s":"d6","x":530,"y":196},{"s":"d6","x":540,"y":268},{"s":"d6","x":550,"y":319},{"s":"d6","x":557,"y":331},{"s":"d6","x":565,"y":336},{"s":"d6","x":575,"y":365},{"s":"d6","x":585,"y":404},{"s":"d6","x":593,"y":420},{"s":"d6","x":600,"y":411},{"s":"d6","x":610,"y":351},{"s":"d6","x":620,"y":271},{"s":"d6","x":630,"y":204},{"s":"d6","x":640,"y":154},{"s":"d6","x":650,"y":109},{"s":"d6","x":660,"y":68},
      {"s":"d5","x":480,"y":131},{"s":"d5","x":490,"y":130},{"s":"d5","x":500,"y":133},{"s":"d5","x":510,"y":144},{"s":"d5","x":520,"y":169},{"s":"d5","x":530,"y":220},{"s":"d5","x":540,"y":298},{"s":"d5","x":550,"y":354},{"s":"d5","x":557,"y":367},{"s":"d5","x":565,"y":374},{"s":"d5","x":575,"y":410},{"s":"d5","x":585,"y":456},{"s":"d5","x":593,"y":475},{"s":"d5","x":600,"y":464},{"s":"d5","x":610,"y":396},{"s":"d5","x":620,"y":306},{"s":"d5","x":630,"y":231},{"s":"d5","x":640,"y":174},{"s":"d5","x":650,"y":123},{"s":"d5","x":660,"y":76},
      {"s":"d4","x":480,"y":135},{"s":"d4","x":490,"y":134},{"s":"d4","x":500,"y":138},{"s":"d4","x":510,"y":149},{"s":"d4","x":520,"y":174},{"s":"d4","x":530,"y":227},{"s":"d4","x":540,"y":307},{"s":"d4","x":550,"y":364},{"s":"d4","x":557,"y":377},{"s":"d4","x":565,"y":385},{"s":"d4","x":575,"y":423},{"s":"d4","x":585,"y":471},{"s":"d4","x":593,"y":490},{"s":"d4","x":600,"y":479},{"s":"d4","x":610,"y":408},{"s":"d4","x":620,"y":315},{"s":"d4","x":630,"y":238},{"s":"d4","x":640,"y":180},{"s":"d4","x":650,"y":127},{"s":"d4","x":660,"y":79},
      {"s":"d3","x":480,"y":152},{"s":"d3","x":490,"y":150},{"s":"d3","x":500,"y":154},{"s":"d3","x":510,"y":167},{"s":"d3","x":520,"y":195},{"s":"d3","x":530,"y":253},{"s":"d3","x":540,"y":340},{"s":"d3","x":550,"y":402},{"s":"d3","x":557,"y":417},{"s":"d3","x":565,"y":426},{"s":"d3","x":575,"y":472},{"s":"d3","x":585,"y":528},{"s":"d3","x":593,"y":550},{"s":"d3","x":600,"y":538},{"s":"d3","x":610,"y":457},{"s":"d3","x":620,"y":353},{"s":"d3","x":630,"y":267},{"s":"d3","x":640,"y":202},{"s":"d3","x":650,"y":143},{"s":"d3","x":660,"y":88},
      {"s":"d2","x":480,"y":156},{"s":"d2","x":490,"y":154},{"s":"d2","x":500,"y":158},{"s":"d2","x":510,"y":171},{"s":"d2","x":520,"y":200},{"s":"d2","x":530,"y":259},{"s":"d2","x":540,"y":348},{"s":"d2","x":550,"y":412},{"s":"d2","x":557,"y":426},{"s":"d2","x":565,"y":436},{"s":"d2","x":575,"y":484},{"s":"d2","x":585,"y":543},{"s":"d2","x":593,"y":565},{"s":"d2","x":600,"y":552},{"s":"d2","x":610,"y":469},{"s":"d2","x":620,"y":362},{"s":"d2","x":630,"y":274},{"s":"d2","x":640,"y":207},{"s":"d2","x":650,"y":147},{"s":"d2","x":660,"y":90},
      {"s":"d1","x":480,"y":160},{"s":"d1","x":490,"y":158},{"s":"d1","x":500,"y":162},{"s":"d1","x":510,"y":175},{"s":"d1","x":520,"y":205},{"s":"d1","x":530,"y":265},{"s":"d1","x":540,"y":355},{"s":"d1","x":550,"y":420},{"s":"d1","x":557,"y":435},{"s":"d1","x":565,"y":445},{"s":"d1","x":575,"y":495},{"s":"d1","x":585,"y":555},{"s":"d1","x":593,"y":578},{"s":"d1","x":600,"y":565},{"s":"d1","x":610,"y":480},{"s":"d1","x":620,"y":370},{"s":"d1","x":630,"y":280},{"s":"d1","x":640,"y":212},{"s":"d1","x":650,"y":150},{"s":"d1","x":660,"y":92},
      {"s":"Pb","x":480,"y":272},{"s":"Pb","x":485,"y":275},{"s":"Pb","x":491,"y":292},{"s":"Pb","x":497,"y":318},{"s":"Pb","x":503,"y":330},{"s":"Pb","x":509,"y":342},{"s":"Pb","x":515,"y":370},{"s":"Pb","x":521,"y":430},{"s":"Pb","x":527,"y":520},{"s":"Pb","x":533,"y":620},{"s":"Pb","x":539,"y":718},{"s":"Pb","x":545,"y":795},{"s":"Pb","x":551,"y":845},{"s":"Pb","x":557,"y":885},{"s":"Pb","x":563,"y":940},{"s":"Pb","x":569,"y":1010},{"s":"Pb","x":575,"y":1085},{"s":"Pb","x":581,"y":1160},{"s":"Pb","x":587,"y":1220},{"s":"Pb","x":592,"y":1243},{"s":"Pb","x":597,"y":1235},{"s":"Pb","x":602,"y":1190},{"s":"Pb","x":607,"y":1110},{"s":"Pb","x":612,"y":990},{"s":"Pb","x":617,"y":870},{"s":"Pb","x":622,"y":760},{"s":"Pb","x":628,"y":655},{"s":"Pb","x":635,"y":548},{"s":"Pb","x":642,"y":455},{"s":"Pb","x":650,"y":350},{"s":"Pb","x":655,"y":285},{"s":"Pb","x":660,"y":213}
    ],
    "d_notes": [
      {"kind":"rule","x":523.5,"y":763,"x2":544.8,"y2":769},
      {"kind":"rule","x":594.4,"y":726,"x2":594.4,"y2":608},
      {"kind":"ring","x":594.4,"y":370},
      {"kind":"label","x":493,"y":760,"t":"Pb","sup":"2+"},
      {"kind":"note","x":560,"y":874,"t":"free and\nother cations"}
    ]
  },
  "resolve": {"scale": {"x": "independent", "y": "independent", "color": "independent"}},
  "spacing": 1,
  "vconcat": [
    {
      "hconcat": [
        {
          "width": 427, "height": 358,
          "title": {"text": "(a)", "dx": -85, "dy": 27},
          "encoding": {
            "x": {"field": "x", "type": "quantitative", "scale": {"domain": [200, 800], "nice": false, "zero": false},
              "axis": {"title": "Wavelength (nm)", "values": [200, 300, 400, 500, 600, 700, 800], "format": "d", "labelPadding": 7, "titlePadding": 20,
                "labelFont": "Liberation Serif, serif", "titleFont": "Liberation Serif, serif"}},
            "y": {"field": "y", "type": "quantitative", "scale": {"domain": [0, 2], "nice": false},
              "axis": {"title": "Absorbance", "values": [0, 0.5, 1, 1.5, 2], "format": "~g", "labelPadding": 12, "titlePadding": 12, "titleFontSize": 30,
                "labelFont": "Liberation Serif, serif", "titleFont": "Liberation Serif, serif"}}
          },
          "layer": [
            {"data": {"name": "a"}, "transform": [{"filter": "datum.s != 'Pb' && datum.s != 'Fe'"}],
              "mark": {"type": "line", "strokeWidth": 2.3, "interpolate": "monotone"},
              "encoding": {"color": {"field": "s", "type": "nominal", "legend": null,
                "scale": {"domain": ["a1","a2","a3","a4","a5","a6","a7","a8","a9","a10","a11","a12","Fe","Pb"],
                  "range": ["#2F8FA8","#4BACC6","#A7B9CF","#93CDDD","#A59BB8","#95B3D7","#D99694","#BFBFBF","#B3A2C7","#9DC3E6","#C5B8DA","#B8CCE4","#8FB14B","#7335A6"]}}}},
            {"data": {"name": "a"}, "transform": [{"filter": "datum.s == 'Pb' || datum.s == 'Fe'"}],
              "mark": {"type": "line", "strokeWidth": 3, "interpolate": "monotone"},
              "encoding": {"color": {"field": "s", "type": "nominal", "legend": null,
                "scale": {"domain": ["a1","a2","a3","a4","a5","a6","a7","a8","a9","a10","a11","a12","Fe","Pb"],
                  "range": ["#2F8FA8","#4BACC6","#A7B9CF","#93CDDD","#A59BB8","#95B3D7","#D99694","#BFBFBF","#B3A2C7","#9DC3E6","#C5B8DA","#B8CCE4","#8FB14B","#7335A6"]}}}},
            {"data": {"name": "a_notes"}, "transform": [{"filter": "datum.kind == 'rule'"}],
              "mark": {"type": "rule", "color": "#C0393D", "strokeWidth": 1.5},
              "encoding": {"x2": {"field": "x2"}, "y2": {"field": "y2"}}},
            {"data": {"name": "a_notes"}, "transform": [{"filter": "datum.kind == 'ring'"}],
              "mark": {"type": "point", "shape": "M0,-1C0.342,-1,0.62,-0.552,0.62,0C0.62,0.552,0.342,1,0,1C-0.342,1,-0.62,0.552,-0.62,0C-0.62,-0.552,-0.342,-1,0,-1Z",
                "size": 3025, "filled": false, "color": "#D8383A", "strokeWidth": 1.3, "strokeDash": [4, 3], "opacity": 1}},
            {"data": {"name": "a_notes"}, "transform": [{"filter": "datum.kind == 'label'"}],
              "mark": {"type": "text", "align": "left", "baseline": "middle", "font": "Liberation Serif, serif", "fontWeight": "bold", "fontSize": 28, "color": "#111"},
              "encoding": {"text": {"field": "t"}}},
            {"data": {"name": "a_notes"}, "transform": [{"filter": "datum.kind == 'label'"}],
              "mark": {"type": "text", "align": "left", "baseline": "middle", "dx": 32, "dy": -9, "font": "Liberation Serif, serif", "fontWeight": "bold", "fontSize": 18, "color": "#111"},
              "encoding": {"text": {"field": "sup"}}},
            {"data": {"name": "a_notes"}, "transform": [{"filter": "datum.kind == 'note'"}],
              "mark": {"type": "text", "align": "center", "baseline": "middle", "lineBreak": "\n", "lineHeight": 33, "font": "Liberation Serif, serif", "fontWeight": "bold", "fontSize": 30, "color": "#111"},
              "encoding": {"text": {"field": "t"}}}
          ]
        },
        {
          "width": 429, "height": 354,
          "title": {"text": "(b)", "dx": -85, "dy": 27},
          "encoding": {
            "x": {"field": "x", "type": "quantitative", "scale": {"domain": [200, 800], "nice": false, "zero": false},
              "axis": {"title": "Wavelength (nm)", "values": [200, 300, 400, 500, 600, 700, 800], "format": "d", "labelPadding": 5, "titlePadding": 20,
                "labelFont": "Liberation Serif, serif", "titleFont": "Liberation Serif, serif"}},
            "y": {"field": "y", "type": "quantitative", "scale": {"domain": [0, 3], "nice": false},
              "axis": {"title": "Absorbance", "values": [0, 0.5, 1, 1.5, 2, 2.5, 3], "format": "~g", "labelPadding": 6, "titlePadding": 12, "titleFontSize": 30,
                "labelFont": "Liberation Serif, serif", "titleFont": "Liberation Serif, serif"}}
          },
          "layer": [
            {"data": {"name": "b"}, "transform": [{"filter": "datum.s != 'Pb' && datum.s != 'Fe'"}],
              "mark": {"type": "line", "strokeWidth": 2.3, "interpolate": "monotone"},
              "encoding": {"color": {"field": "s", "type": "nominal", "legend": null,
                "scale": {"domain": ["b1","b2","b3","b4","b5","b6","b7","b8","b9","b10","b11","t1","o1","Fe","Pb"],
                  "range": ["#E6B9B8","#D5C3DC","#9FB6CF","#4BACC6","#5B5F97","#9BBB59","#B3A2C7","#8EA9C8","#C9BEDA","#A9C4E0","#C8D6E8","#35869F","#F5A56E","#8FB14B","#7335A6"]}}}},
            {"data": {"name": "b"}, "transform": [{"filter": "datum.s == 'Pb' || datum.s == 'Fe'"}],
              "mark": {"type": "line", "strokeWidth": 3, "interpolate": "monotone"},
              "encoding": {"color": {"field": "s", "type": "nominal", "legend": null,
                "scale": {"domain": ["b1","b2","b3","b4","b5","b6","b7","b8","b9","b10","b11","t1","o1","Fe","Pb"],
                  "range": ["#E6B9B8","#D5C3DC","#9FB6CF","#4BACC6","#5B5F97","#9BBB59","#B3A2C7","#8EA9C8","#C9BEDA","#A9C4E0","#C8D6E8","#35869F","#F5A56E","#8FB14B","#7335A6"]}}}},
            {"data": {"name": "b_notes"}, "transform": [{"filter": "datum.kind == 'rule'"}],
              "mark": {"type": "rule", "color": "#C0393D", "strokeWidth": 1.5},
              "encoding": {"x2": {"field": "x2"}, "y2": {"field": "y2"}}},
            {"data": {"name": "b_notes"}, "transform": [{"filter": "datum.kind == 'ring'"}],
              "mark": {"type": "point", "shape": "M0,-1C0.16,-1,0.29,-0.552,0.29,0C0.29,0.552,0.16,1,0,1C-0.16,1,-0.29,0.552,-0.29,0C-0.29,-0.552,-0.16,-1,0,-1Z",
                "size": 7327, "filled": false, "color": "#D8383A", "strokeWidth": 1.3, "strokeDash": [4, 3], "opacity": 1}},
            {"data": {"name": "b_notes"}, "transform": [{"filter": "datum.kind == 'label'"}],
              "mark": {"type": "text", "align": "left", "baseline": "middle", "font": "Liberation Serif, serif", "fontWeight": "bold", "fontSize": 28, "color": "#111"},
              "encoding": {"text": {"field": "t"}}},
            {"data": {"name": "b_notes"}, "transform": [{"filter": "datum.kind == 'label'"}],
              "mark": {"type": "text", "align": "left", "baseline": "middle", "dx": 32, "dy": -9, "font": "Liberation Serif, serif", "fontWeight": "bold", "fontSize": 18, "color": "#111"},
              "encoding": {"text": {"field": "sup"}}},
            {"data": {"name": "b_notes"}, "transform": [{"filter": "datum.kind == 'note'"}],
              "mark": {"type": "text", "align": "center", "baseline": "middle", "lineBreak": "\n", "lineHeight": 35, "font": "Liberation Serif, serif", "fontWeight": "bold", "fontSize": 30, "color": "#111"},
              "encoding": {"text": {"field": "t"}}}
          ]
        }
      ],
      "spacing": 136, "bounds": "flush",
      "resolve": {"scale": {"x": "independent", "y": "independent", "color": "independent"}}
    },
    {
      "hconcat": [
        {
          "width": 426, "height": 377,
          "title": {"text": "(c)", "dx": -85, "dy": 5},
          "encoding": {
            "x": {"field": "x", "type": "quantitative", "scale": {"domain": [473.43, 660], "nice": false, "zero": false},
              "axis": {"title": "Wavelength (nm)", "values": [480, 525, 570, 615, 660], "format": "d", "domain": false, "labelPadding": 13, "titlePadding": 11, "titleX": 220,
                "labelFont": "Liberation Serif, serif", "titleFont": "Liberation Serif, serif"}},
            "y": {"field": "y", "type": "quantitative", "scale": {"domain": [0, 1000], "nice": false},
              "axis": {"title": "Fluorescence Intensity (a.u)", "values": [0, 200, 400, 600, 800, 1000], "format": "d", "offset": -15, "labelPadding": 15, "titlePadding": 9,
                "labelFont": "Liberation Serif, serif", "titleFont": "Liberation Serif, serif"}}
          },
          "layer": [
            {"data": {"name": "c_notes"}, "transform": [{"filter": "datum.kind == 'base'"}],
              "mark": {"type": "rule", "color": "#000", "strokeWidth": 2.5},
              "encoding": {"x2": {"field": "x2"}}},
            {"data": {"name": "c"}, "transform": [{"filter": "datum.s != 'Pb'"}],
              "mark": {"type": "line", "strokeWidth": 2.6, "interpolate": "monotone"},
              "encoding": {"color": {"field": "s", "type": "nominal", "legend": null,
                "scale": {"domain": ["c0","c1","c2","c3","c4","c5","c6","c7","c8","c9","c10","c11","c12","Pb"],
                  "range": ["#44719F","#C77E36","#4E5A9E","#7A5BA7","#D67A8A","#C0504D","#9A3B3A","#F2A165","#E6A38D","#AFAFAF","#9DB7D8","#B9CDE5","#C9D7EA","#F08A35"]}}}},
            {"data": {"name": "c"}, "transform": [{"filter": "datum.s == 'Pb'"}],
              "mark": {"type": "line", "strokeWidth": 3, "interpolate": "monotone"},
              "encoding": {"color": {"field": "s", "type": "nominal", "legend": null,
                "scale": {"domain": ["c0","c1","c2","c3","c4","c5","c6","c7","c8","c9","c10","c11","c12","Pb"],
                  "range": ["#44719F","#C77E36","#4E5A9E","#7A5BA7","#D67A8A","#C0504D","#9A3B3A","#F2A165","#E6A38D","#AFAFAF","#9DB7D8","#B9CDE5","#C9D7EA","#F08A35"]}}}},
            {"data": {"name": "c_notes"}, "transform": [{"filter": "datum.kind == 'rule'"}],
              "mark": {"type": "rule", "color": "#C0393D", "strokeWidth": 1.5},
              "encoding": {"x2": {"field": "x2"}, "y2": {"field": "y2"}}},
            {"data": {"name": "c_notes"}, "transform": [{"filter": "datum.kind == 'ring'"}],
              "mark": {"type": "point", "shape": "M0,-1C0.243,-1,0.44,-0.552,0.44,0C0.44,0.552,0.243,1,0,1C-0.243,1,-0.44,0.552,-0.44,0C-0.44,-0.552,-0.243,-1,0,-1Z",
                "size": 8028, "filled": false, "color": "#D8383A", "strokeWidth": 1.3, "strokeDash": [4, 3], "opacity": 1}},
            {"data": {"name": "c_notes"}, "transform": [{"filter": "datum.kind == 'label'"}],
              "mark": {"type": "text", "align": "left", "baseline": "middle", "font": "Liberation Serif, serif", "fontWeight": "bold", "fontSize": 28, "color": "#111"},
              "encoding": {"text": {"field": "t"}}},
            {"data": {"name": "c_notes"}, "transform": [{"filter": "datum.kind == 'label'"}],
              "mark": {"type": "text", "align": "left", "baseline": "middle", "dx": 32, "dy": -9, "font": "Liberation Serif, serif", "fontWeight": "bold", "fontSize": 18, "color": "#111"},
              "encoding": {"text": {"field": "sup"}}},
            {"data": {"name": "c_notes"}, "transform": [{"filter": "datum.kind == 'note'"}],
              "mark": {"type": "text", "align": "center", "baseline": "middle", "lineBreak": "\n", "lineHeight": 33, "font": "Liberation Serif, serif", "fontWeight": "bold", "fontSize": 30, "color": "#111"},
              "encoding": {"text": {"field": "t"}}}
          ]
        },
        {
          "width": 392, "height": 377,
          "title": {"text": "(d)", "dx": -81, "dy": 5},
          "encoding": {
            "x": {"field": "x", "type": "quantitative", "scale": {"domain": [480, 660], "nice": false, "zero": false},
              "axis": {"title": "Wavelength (nm)", "values": [480, 525, 570, 615, 660], "format": "d", "labelPadding": 12, "titlePadding": 10,
                "labelFont": "Liberation Serif, serif", "titleFont": "Liberation Serif, serif"}},
            "y": {"field": "y", "type": "quantitative", "scale": {"domain": [0, 1400], "nice": false},
              "axis": {"title": "Fluorescence Intensity (a.u)", "values": [0, 200, 400, 600, 800, 1000, 1200, 1400], "format": "d", "labelPadding": 14, "titlePadding": 8,
                "labelFont": "Liberation Serif, serif", "titleFont": "Liberation Serif, serif"}}
          },
          "layer": [
            {"data": {"name": "d"}, "transform": [{"filter": "datum.s != 'Pb'"}],
              "mark": {"type": "line", "strokeWidth": 3, "interpolate": "monotone"},
              "encoding": {"color": {"field": "s", "type": "nominal", "legend": null,
                "scale": {"domain": ["d1","d2","d3","d4","d5","d6","d7","d8","d9","d10","d11","d12","d13","d14","Pb"],
                  "range": ["#8FB04D","#8E3B3A","#B0563A","#C0504D","#2E8B9E","#3E97AE","#C3A0B8","#C9B0C9","#5868B0","#4F81BD","#5AA6C4","#F4A460","#B5CF8A","#C4D3E6","#F08A35"]}}}},
            {"data": {"name": "d"}, "transform": [{"filter": "datum.s == 'Pb'"}],
              "mark": {"type": "line", "strokeWidth": 3, "interpolate": "monotone"},
              "encoding": {"color": {"field": "s", "type": "nominal", "legend": null,
                "scale": {"domain": ["d1","d2","d3","d4","d5","d6","d7","d8","d9","d10","d11","d12","d13","d14","Pb"],
                  "range": ["#8FB04D","#8E3B3A","#B0563A","#C0504D","#2E8B9E","#3E97AE","#C3A0B8","#C9B0C9","#5868B0","#4F81BD","#5AA6C4","#F4A460","#B5CF8A","#C4D3E6","#F08A35"]}}}},
            {"data": {"name": "d_notes"}, "transform": [{"filter": "datum.kind == 'rule'"}],
              "mark": {"type": "rule", "color": "#C0393D", "strokeWidth": 1.5},
              "encoding": {"x2": {"field": "x2"}, "y2": {"field": "y2"}}},
            {"data": {"name": "d_notes"}, "transform": [{"filter": "datum.kind == 'ring'"}],
              "mark": {"type": "point", "shape": "M0,-1C0.186,-1,0.336,-0.552,0.336,0C0.336,0.552,0.186,1,0,1C-0.186,1,-0.336,0.552,-0.336,0C-0.336,-0.552,-0.186,-1,0,-1Z",
                "size": 16384, "filled": false, "color": "#D8383A", "strokeWidth": 1.3, "strokeDash": [4, 3], "opacity": 1}},
            {"data": {"name": "d_notes"}, "transform": [{"filter": "datum.kind == 'label'"}],
              "mark": {"type": "text", "align": "left", "baseline": "middle", "font": "Liberation Serif, serif", "fontWeight": "bold", "fontSize": 28, "color": "#111"},
              "encoding": {"text": {"field": "t"}}},
            {"data": {"name": "d_notes"}, "transform": [{"filter": "datum.kind == 'label'"}],
              "mark": {"type": "text", "align": "left", "baseline": "middle", "dx": 32, "dy": -9, "font": "Liberation Serif, serif", "fontWeight": "bold", "fontSize": 18, "color": "#111"},
              "encoding": {"text": {"field": "sup"}}},
            {"data": {"name": "d_notes"}, "transform": [{"filter": "datum.kind == 'note'"}],
              "mark": {"type": "text", "align": "left", "baseline": "middle", "lineBreak": "\n", "lineHeight": 35, "font": "Liberation Serif, serif", "fontWeight": "bold", "fontSize": 30, "color": "#111"},
              "encoding": {"text": {"field": "t"}}}
          ]
        }
      ],
      "spacing": 166, "bounds": "flush",
      "resolve": {"scale": {"x": "independent", "y": "independent", "color": "independent"}}
    }
  ]
}
